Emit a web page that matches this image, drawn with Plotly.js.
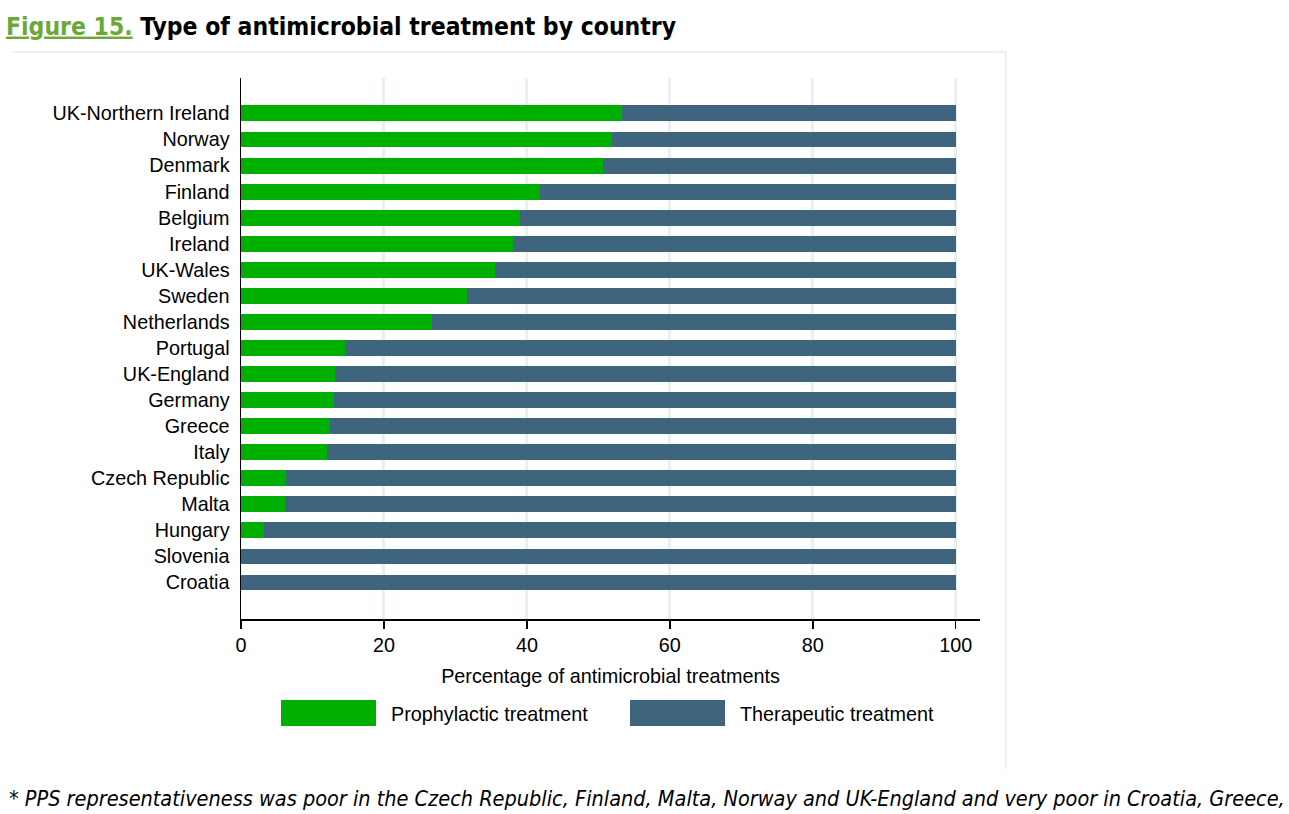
<!DOCTYPE html>
<html>
<head>
<meta charset="utf-8">
<script src="https://cdn.plot.ly/plotly-3.0.1.min.js"></script>
<style>html,body{margin:0;padding:0;background:#fff;}#chart{width:1289px;height:814px;}</style>
</head>
<body>
<div id="chart"></div>
<script>
// Countries, listed top to bottom as in the figure
var countries = ["UK-Northern Ireland","Norway","Denmark","Finland","Belgium","Ireland","UK-Wales","Sweden","Netherlands","Portugal","UK-England","Germany","Greece","Italy","Czech Republic","Malta","Hungary","Slovenia","Croatia"];
// Percentage of antimicrobial treatments
var prophylactic = [53.3, 51.9, 50.6, 41.8, 39.0, 38.0, 35.6, 31.6, 26.7, 14.6, 13.1, 13.0, 12.4, 12.0, 6.3, 6.2, 3.2, 0.0, 0.0];
var therapeutic  = [46.7, 48.1, 49.4, 58.2, 61.0, 62.0, 64.4, 68.4, 73.3, 85.4, 86.9, 87.0, 87.6, 88.0, 93.7, 93.8, 96.8, 100.0, 100.0];
var xTicks = [0, 20, 40, 60, 80, 100];
var seriesNames = ["Prophylactic treatment", "Therapeutic treatment"];
var seriesColors = ["#00b000", "#3f647e"];

var tickFont = {family: "Liberation Sans, Arial, sans-serif", size: 19.8, color: "#000"};

var traces = [
  {type: "bar", orientation: "h", name: seriesNames[0], y: countries, x: prophylactic,
   marker: {color: seriesColors[0], line: {width: 0}}, width: 0.61, showlegend: false, hoverinfo: "x+y"},
  {type: "bar", orientation: "h", name: seriesNames[1], y: countries, x: therapeutic,
   marker: {color: seriesColors[1], line: {width: 0}}, width: 0.61, showlegend: false, hoverinfo: "x+y"}
];

function px(x){ return (x - 241) / 739; }
function py(y){ return (619 - y) / 541; }

var layout = {
  width: 1289, height: 814,
  paper_bgcolor: "#fff", plot_bgcolor: "#fff",
  margin: {l: 241, r: 309, t: 78, b: 195, pad: 0},
  barmode: "stack",
  bargap: 0.39,
  title: {
    text: '<span style="color:#6aa83a;text-decoration:underline">Figure 15.</span> Type of antimicrobial treatment by country',
    x: 6/1289, xanchor: "left", xref: "container",
    y: 1 - 26/814, yanchor: "middle", yref: "container",
    font: {family: "DejaVu Sans Condensed, DejaVu Sans, sans-serif", size: 24.5, color: "#000", weight: "bold"}
  },
  xaxis: {
    range: [0, 103.4], tickvals: xTicks, ticktext: xTicks.map(String),
    showgrid: true, gridcolor: "#e8f0f2", gridwidth: 3,
    zeroline: false, showline: true, linecolor: "#000", linewidth: 1.5,
    ticks: "outside", ticklen: 8, tickcolor: "#000", tickwidth: 1.5,
    tickfont: tickFont, fixedrange: true,
    title: {text: "Percentage of antimicrobial treatments", font: tickFont, standoff: 14}
  },
  yaxis: {
    type: "category", categoryorder: "array", categoryarray: countries,
    range: [19.4, -1.36],
    showgrid: false, zeroline: false, showline: true, linecolor: "#000", linewidth: 1.5,
    ticks: "", tickfont: tickFont, ticklabelstandoff: 6, fixedrange: true
  },
  shapes: [
    // faint frame
    {type: "line", xref: "paper", yref: "paper", x0: px(13), x1: px(1006), y0: py(52), y1: py(52), line: {color: "#e6eef0", width: 1.5}},
    {type: "line", xref: "paper", yref: "paper", x0: px(1006), x1: px(1006), y0: py(52), y1: py(769), line: {color: "#e6eef0", width: 1.5}},
    // legend swatches
    {type: "rect", xref: "paper", yref: "paper", x0: px(281), x1: px(376), y0: py(700), y1: py(726), fillcolor: seriesColors[0], line: {width: 0}},
    {type: "rect", xref: "paper", yref: "paper", x0: px(630), x1: px(725), y0: py(700), y1: py(726), fillcolor: seriesColors[1], line: {width: 0}}
  ],
  annotations: [
    {xref: "paper", yref: "paper", x: px(389), y: py(714), xanchor: "left", yanchor: "middle", showarrow: false, text: seriesNames[0], font: tickFont},
    {xref: "paper", yref: "paper", x: px(738), y: py(714), xanchor: "left", yanchor: "middle", showarrow: false, text: seriesNames[1], font: tickFont},
    {xref: "paper", yref: "paper", x: px(7), y: py(798), xanchor: "left", yanchor: "middle", showarrow: false,
     text: "<i>* PPS representativeness was poor in the Czech Republic, Finland, Malta, Norway and UK-England and very poor in Croatia, Greece,</i>",
     font: {family: "DejaVu Sans Condensed, DejaVu Sans, sans-serif", size: 21.5, color: "#000"}}
  ]
};

Plotly.newPlot("chart", traces, layout, {displayModeBar: false, staticPlot: true});
</script>
</body>
</html>
